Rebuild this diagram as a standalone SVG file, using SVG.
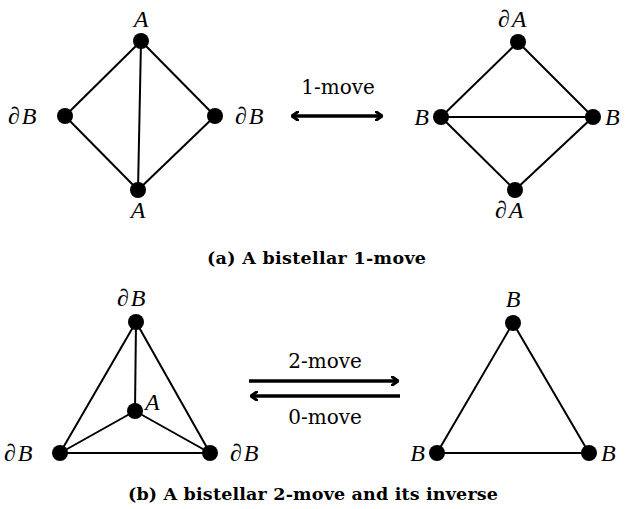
<svg xmlns="http://www.w3.org/2000/svg" width="628" height="509" viewBox="0 0 628 509">
<style>
.e{stroke:#000;stroke-width:2;fill:none}
.n{fill:#000}
.m{font-family:"Liberation Serif",serif;font-style:italic;font-size:24px;fill:#000}
.d{letter-spacing:2px}
.t{font-family:"DejaVu Serif",serif;font-size:20px;fill:#000}
.c{font-family:"DejaVu Serif",serif;font-size:17.5px;font-weight:bold;fill:#000}
.a{stroke:#000;stroke-width:3.5;fill:none}
</style>
<defs>
<marker id="h" markerWidth="8" markerHeight="10" refX="6" refY="5" orient="auto-start-reverse" markerUnits="userSpaceOnUse">
<path d="M0,0 L7,5 L0,10" fill="none" stroke="#000" stroke-width="3"/>
</marker>
</defs>
<rect width="628" height="509" fill="#fff"/>
<g id="connectors">
<line class="e" x1="141" y1="41" x2="65" y2="116"/>
<line class="e" x1="141" y1="41" x2="215" y2="116"/>
<line class="e" x1="141" y1="41" x2="138" y2="190"/>
<line class="e" x1="65" y1="116" x2="138" y2="190"/>
<line class="e" x1="215" y1="116" x2="138" y2="190"/>
<line class="e" x1="518" y1="42" x2="441" y2="117"/>
<line class="e" x1="518" y1="42" x2="593" y2="117"/>
<line class="e" x1="441" y1="117" x2="593" y2="117"/>
<line class="e" x1="441" y1="117" x2="515" y2="190"/>
<line class="e" x1="593" y1="117" x2="515" y2="190"/>
<line class="e" x1="136" y1="322" x2="135" y2="411"/>
<line class="e" x1="136" y1="322" x2="60" y2="453"/>
<line class="e" x1="136" y1="322" x2="210" y2="453"/>
<line class="e" x1="135" y1="411" x2="60" y2="453"/>
<line class="e" x1="135" y1="411" x2="210" y2="453"/>
<line class="e" x1="60" y1="453" x2="210" y2="453"/>
<line class="e" x1="513" y1="323" x2="437" y2="453"/>
<line class="e" x1="513" y1="323" x2="589" y2="453"/>
<line class="e" x1="437" y1="453" x2="589" y2="453"/>
<line class="a" x1="293" y1="116" x2="381" y2="116" marker-start="url(#h)" marker-end="url(#h)"/>
<line class="a" x1="249" y1="381" x2="397" y2="381" marker-end="url(#h)"/>
<line class="a" x1="400" y1="396" x2="252" y2="396" marker-end="url(#h)"/>
</g>
<g id="n1"><circle class="n" cx="141" cy="41" r="8"/><text class="m" x="141" y="27" text-anchor="middle">A</text></g>
<g id="n2"><circle class="n" cx="65" cy="116" r="8"/><text class="m d" x="8" y="124">∂B</text></g>
<g id="n3"><circle class="n" cx="215" cy="116" r="8"/><text class="m d" x="235" y="124">∂B</text></g>
<g id="n4"><circle class="n" cx="138" cy="190" r="8"/><text class="m" x="138" y="218" text-anchor="middle">A</text></g>
<g id="n5"><circle class="n" cx="518" cy="42" r="8"/><text class="m d" x="498" y="27">∂A</text></g>
<g id="n6"><circle class="n" cx="441" cy="117" r="8"/><text class="m" x="429" y="125" text-anchor="end">B</text></g>
<g id="n7"><circle class="n" cx="593" cy="117" r="8"/><text class="m" x="605" y="125">B</text></g>
<g id="n8"><circle class="n" cx="515" cy="190" r="8"/><text class="m d" x="495" y="218">∂A</text></g>
<g id="n9"><circle class="n" cx="136" cy="322" r="8"/><text class="m d" x="117" y="306">∂B</text></g>
<g id="n10"><circle class="n" cx="135" cy="411" r="8"/><text class="m" x="145" y="410">A</text></g>
<g id="n11"><circle class="n" cx="60" cy="453" r="8"/><text class="m d" x="4" y="461">∂B</text></g>
<g id="n12"><circle class="n" cx="210" cy="453" r="8"/><text class="m d" x="230" y="461">∂B</text></g>
<g id="n13"><circle class="n" cx="513" cy="323" r="8"/><text class="m" x="513" y="307" text-anchor="middle">B</text></g>
<g id="n14"><circle class="n" cx="437" cy="453" r="8"/><text class="m" x="425" y="461" text-anchor="end">B</text></g>
<g id="n15"><circle class="n" cx="589" cy="453" r="8"/><text class="m" x="601" y="461">B</text></g>
<text class="t" x="338" y="94" text-anchor="middle">1-move</text>
<text class="t" x="325" y="368" text-anchor="middle">2-move</text>
<text class="t" x="325" y="424" text-anchor="middle">0-move</text>
<text class="c" x="207" y="264" textLength="219">(a) A bistellar 1-move</text>
<text class="c" x="128" y="500" textLength="370">(b) A bistellar 2-move and its inverse</text>
</svg>
